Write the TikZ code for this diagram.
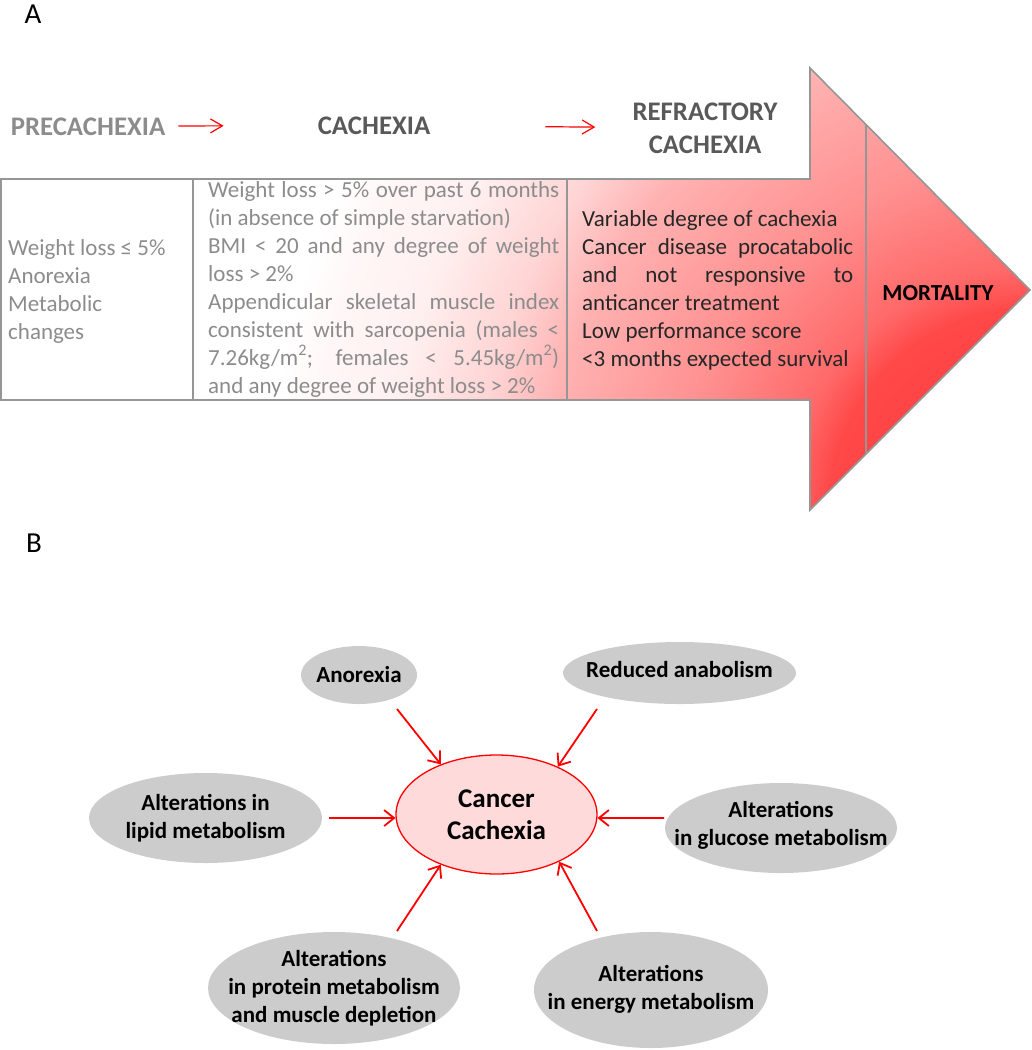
\documentclass[tikz,border=0pt]{standalone}
\usepackage{fontspec}
\setmainfont{Carlito}
\usetikzlibrary{shapes.geometric,arrows.meta}
\definecolor{palegreytxt}{RGB}{140,140,140}
\definecolor{darkgreytxt}{RGB}{89,89,89}
\definecolor{celldark}{RGB}{38,38,38}
\definecolor{framegrey}{RGB}{150,150,150}
\definecolor{factorgrey}{RGB}{204,204,204}
\definecolor{corepink}{RGB}{255,218,218}
\definecolor{shadeA}{RGB}{255,246,246}
\definecolor{shadeB}{RGB}{255,240,240}
\definecolor{shadeC}{RGB}{255,227,227}
\definecolor{shadeD}{RGB}{255,212,212}
\definecolor{shadeE}{RGB}{255,178,178}
\definecolor{shadeF}{RGB}{255,144,144}
\definecolor{shadeG}{RGB}{255,105,105}
\definecolor{shadeH}{RGB}{255,72,72}
\definecolor{shadeI}{RGB}{255,58,58}
% radial fill of the stage arrow, centred on its lower right corner
\pgfdeclareradialshading{stageshade}{\pgfpoint{0bp}{0bp}}{color(0bp)=(shadeI); color(200bp)=(shadeH);
  color(240bp)=(shadeG); color(347bp)=(shadeF); color(485bp)=(shadeE);
  color(550bp)=(shadeD); color(600bp)=(shadeC); color(640bp)=(shadeB);
  color(710bp)=(shadeA); color(760bp)=(white); color(800bp)=(white)}
\newcommand{\fillline}[2]{\makebox[#1][s]{#2}}
\tikzset{stagehead/.style={font=\fontsize{26.8}{33}\selectfont\bfseries, inner sep=0pt, anchor=base},
    celltext/.style={font=\fontsize{23}{28}\selectfont, inner sep=0pt, anchor=base west},
    panel/.style={font=\fontsize{29}{30}\selectfont, inner sep=0pt, anchor=base},
    stagearrow/.style={red, line width=1.2pt, -{Straight Barb[length=12pt,width=14pt]}},
    factor/.style={ellipse, fill=factorgrey, inner sep=0pt},
    factortext/.style={inner sep=0pt, align=center, font=\fontsize{23}{28}\selectfont\bfseries},
    core/.style={ellipse, draw=red, line width=1.3pt, fill=corepink, inner sep=0pt, align=center,
        minimum width=201pt, minimum height=119pt, font=\fontsize{27}{32}\selectfont\bfseries},
    feed/.style={red, line width=1.8pt, -{Straight Barb[length=10pt,width=16pt]}},
    }
\begin{document}
\begin{tikzpicture}[x=1pt,y=-1pt]
	\useasboundingbox (0,0) rectangle (1032,1050);
	\node[panel] (labA) at (33,23) {A};
	\node[panel] (labB) at (34,552) {B};
	% stage arrow
	\begin{scope}
		\clip (1,179) -- (810,179) -- (810,68) -- (1030,290) -- (810,510) -- (810,400) -- (1,400) -- cycle;
		\node[inner sep=0pt] (glow) at (1030,510) {\pgfuseshading{stageshade}};
	\end{scope}
	\draw[framegrey, line width=1.6pt] (1,179) -- (810,179) -- (810,68) -- (1030,290) -- (810,510) -- (810,400) -- (1,400) -- cycle;
	\draw[framegrey, line width=1.6pt] (193,179) -- (193,400) (567,179) -- (567,400) (866,124.5) -- (866,453.5);
	% stage headings
	\node[stagehead, text=palegreytxt] (pre) at (88,135) {PRECACHEXIA};
	\node[stagehead, text=darkgreytxt] (cach) at (374,134) {CACHEXIA};
	\node[stagehead, text=darkgreytxt, align=center, anchor=center] (refr) at (705,128) {REFRACTORY\\CACHEXIA};
	\node[stagehead, font=\fontsize{23}{28}\selectfont\bfseries] (mort) at (938,300) {MORTALITY};
	\draw[stagearrow, shorten <=13pt, shorten >=94pt] (pre) -- (cach);
	\draw[stagearrow, shorten <=115pt, shorten >=37pt] (cach) -- (refr);
	% cells
	\foreach \txt [count=\k from 0] in {{Weight loss ≤ 5\%},{Anorexia},{Metabolic},{changes}}
		\node[celltext, text=palegreytxt] (early-\k) at (8,255+28*\k) {\txt};
	\foreach \txt [count=\k from 0] in {
		{\fillline{351pt}{Weight loss > 5\% over past 6 months}},
		{(in absence of simple starvation)},
		{\fillline{351pt}{BMI < 20 and any degree of weight}},
		{loss > 2\%},
		{\fillline{351pt}{Appendicular skeletal muscle index}},
		{\fillline{351pt}{consistent with sarcopenia (males <}},
		{\fillline{351pt}{7.26kg/m\textsuperscript{2}; females < 5.45kg/m\textsuperscript{2})}},
		{and any degree of weight loss > 2\%}}
		\node[celltext, text=palegreytxt] (mid-\k) at (208,197+28*\k) {\txt};
	\foreach \txt [count=\k from 0] in {
		{Variable degree of cachexia},
		{\fillline{271pt}{Cancer disease procatabolic}},
		{\fillline{271pt}{and not responsive to}},
		{anticancer treatment},
		{Low performance score},
		{<3 months expected survival}}
		\node[celltext, text=celldark] (late-\k) at (582,226+28*\k) {\txt};
	% mechanisms
	\node[core] (cc) at (496.5,814.5) {Cancer\\Cachexia};
	\node[factor, minimum width=116pt, minimum height=58pt,
		label={[factortext]center:Anorexia}] (anorexia) at (359,675) {};
	\node[factor, minimum width=233pt, minimum height=62pt,
		label={[factortext, yshift=3pt]center:Reduced anabolism}] (anabol) at (679.5,673) {};
	\node[factor, minimum width=233pt, minimum height=90pt,
		label={[factortext]center:Alterations in\\lipid metabolism}] (lipid) at (205.5,818) {};
	\node[factor, minimum width=232pt, minimum height=90pt,
		label={[factortext, yshift=3pt]center:Alterations\\in glucose metabolism}] (glucose) at (781,828) {};
	\node[factor, minimum width=252pt, minimum height=112pt,
		label={[factortext]center:Alterations\\in protein metabolism\\and muscle depletion}] (protein) at (334,988) {};
	\node[factor, minimum width=234pt, minimum height=116pt,
		label={[factortext, yshift=1pt]center:Alterations\\in energy metabolism}] (energy) at (651,990) {};
	\coordinate (anorexia-tail) at (397,709);
	\coordinate (anabol-tail) at (597,709);
	\coordinate (lipid-tail) at (329,818);
	\coordinate (glucose-tail) at (664,818);
	\coordinate (protein-tail) at (397,931);
	\coordinate (energy-tail) at (597,931);
	\draw[feed] (anorexia-tail) -- (cc.138);
	\draw[feed] (anabol-tail) -- (cc.38);
	\draw[feed] (lipid-tail) -- (cc.182);
	\draw[feed] (glucose-tail) -- (cc.358);
	\draw[feed] (protein-tail) -- (cc.222);
	\draw[feed] (energy-tail) -- (cc.323);
\end{tikzpicture}
\end{document}
